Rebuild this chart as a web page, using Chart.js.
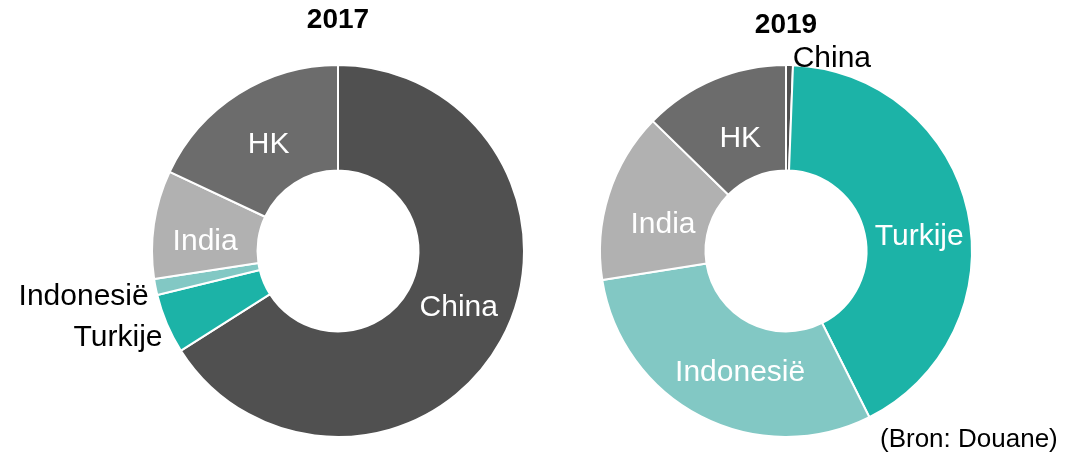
<!DOCTYPE html>
<html>
<head>
<meta charset="utf-8">
<script src="https://cdn.jsdelivr.net/npm/chart.js@4.4.1/dist/chart.umd.min.js"></script>
<style>
  html, body { margin: 0; padding: 0; background: #fff; }
  #wrap { position: relative; width: 1076px; height: 453px; overflow: hidden; }
  #wrap canvas { position: absolute; left: 0; top: 0; }
  #source {
    position: absolute; left: 880px; top: 424px;
    font: 26px "Liberation Sans", Arial, sans-serif; color: #000; line-height: 28px;
  }
</style>
</head>
<body>
<div id="wrap">
  <canvas id="chart2017" width="1076" height="453"></canvas>
  <canvas id="chart2019" width="1076" height="453"></canvas>
  <div id="source">(Bron: Douane)</div>
</div>
<script>
// shares per country (clockwise from 12 o'clock)
const countries = ['China', 'Turkije', 'Indonesië', 'India', 'HK'];
const share2017 = [66.0, 5.2, 1.4, 9.4, 18.0];
const share2019 = [0.6, 42.0, 29.9, 14.8, 12.7];
const countryColors = ['#505050', '#1cb3a7', '#82c8c4', '#b1b1b1', '#6c6c6c'];

const FONT = '"Liberation Sans", Arial, sans-serif';

// draws the year title and the slice labels
const sliceLabels = {
    id: 'sliceLabels',
    afterDatasetsDraw(chart, args, opts) {
        const ctx = chart.ctx;
        const arcs = chart.getDatasetMeta(0).data;
        const first = arcs[0];

        ctx.save();
        ctx.font = 'bold 28px ' + FONT;
        ctx.fillStyle = '#000';
        ctx.textAlign = 'center';
        ctx.textBaseline = 'middle';
        ctx.fillText(opts.title, first.x, opts.titleY);

        ctx.font = '30px ' + FONT;
        arcs.forEach((arc, i) => {
            const name = chart.data.labels[i];
            const out = opts.outside[name];
            if (out) {
                const mid = (arc.startAngle + arc.endAngle) / 2;
                const r = arc.outerRadius + 8;
                ctx.fillStyle = '#000';
                ctx.textAlign = out.align;
                ctx.fillText(name, arc.x + Math.cos(mid) * r + out.dx, arc.y + Math.sin(mid) * r + out.dy);
            } else {
                const p = arc.tooltipPosition();
                const n = opts.nudge[name] || [0, 0];
                ctx.fillStyle = '#fff';
                ctx.textAlign = 'center';
                ctx.fillText(name, p.x + n[0], p.y + n[1]);
            }
        });
        ctx.restore();
    }
};

function makeRing(id, values, pad, labelOpts) {
    return new Chart(document.getElementById(id), {
        type: 'doughnut',
        data: {
            labels: countries,
            datasets: [{
                data: values,
                backgroundColor: countryColors,
                borderColor: '#fff',
                borderWidth: 2,
                hoverOffset: 0,
            }]
        },
        options: {
            responsive: false,
            animation: false,
            devicePixelRatio: 1,
            radius: 186,
            cutout: 87,
            layout: { padding: pad },
            plugins: {
                legend: { display: false },
                tooltip: { enabled: false },
                sliceLabels: labelOpts,
            }
        },
        plugins: [sliceLabels]
    });
}

makeRing('chart2017', share2017, { left: 0, right: 400, top: 49, bottom: 0 }, {
    title: '2017',
    titleY: 20,
    outside: {
        'Indonesië': { align: 'right', dx: 1, dy: 8 },
        'Turkije': { align: 'right', dx: 3, dy: 11 },
    },
    nudge: { 'China': [4, -7], 'HK': [2, 6], 'India': [-1, 10] }
});

makeRing('chart2019', share2019, { left: 496, right: 0, top: 49, bottom: 0 }, {
    title: '2019',
    titleY: 25,
    outside: {
        'China': { align: 'left', dx: 3, dy: 2 },
    },
    nudge: { 'Turkije': [3, 14], 'Indonesië': [15, 3], 'HK': [6, 11], 'India': [4, 14] }
});
</script>
</body>
</html>
